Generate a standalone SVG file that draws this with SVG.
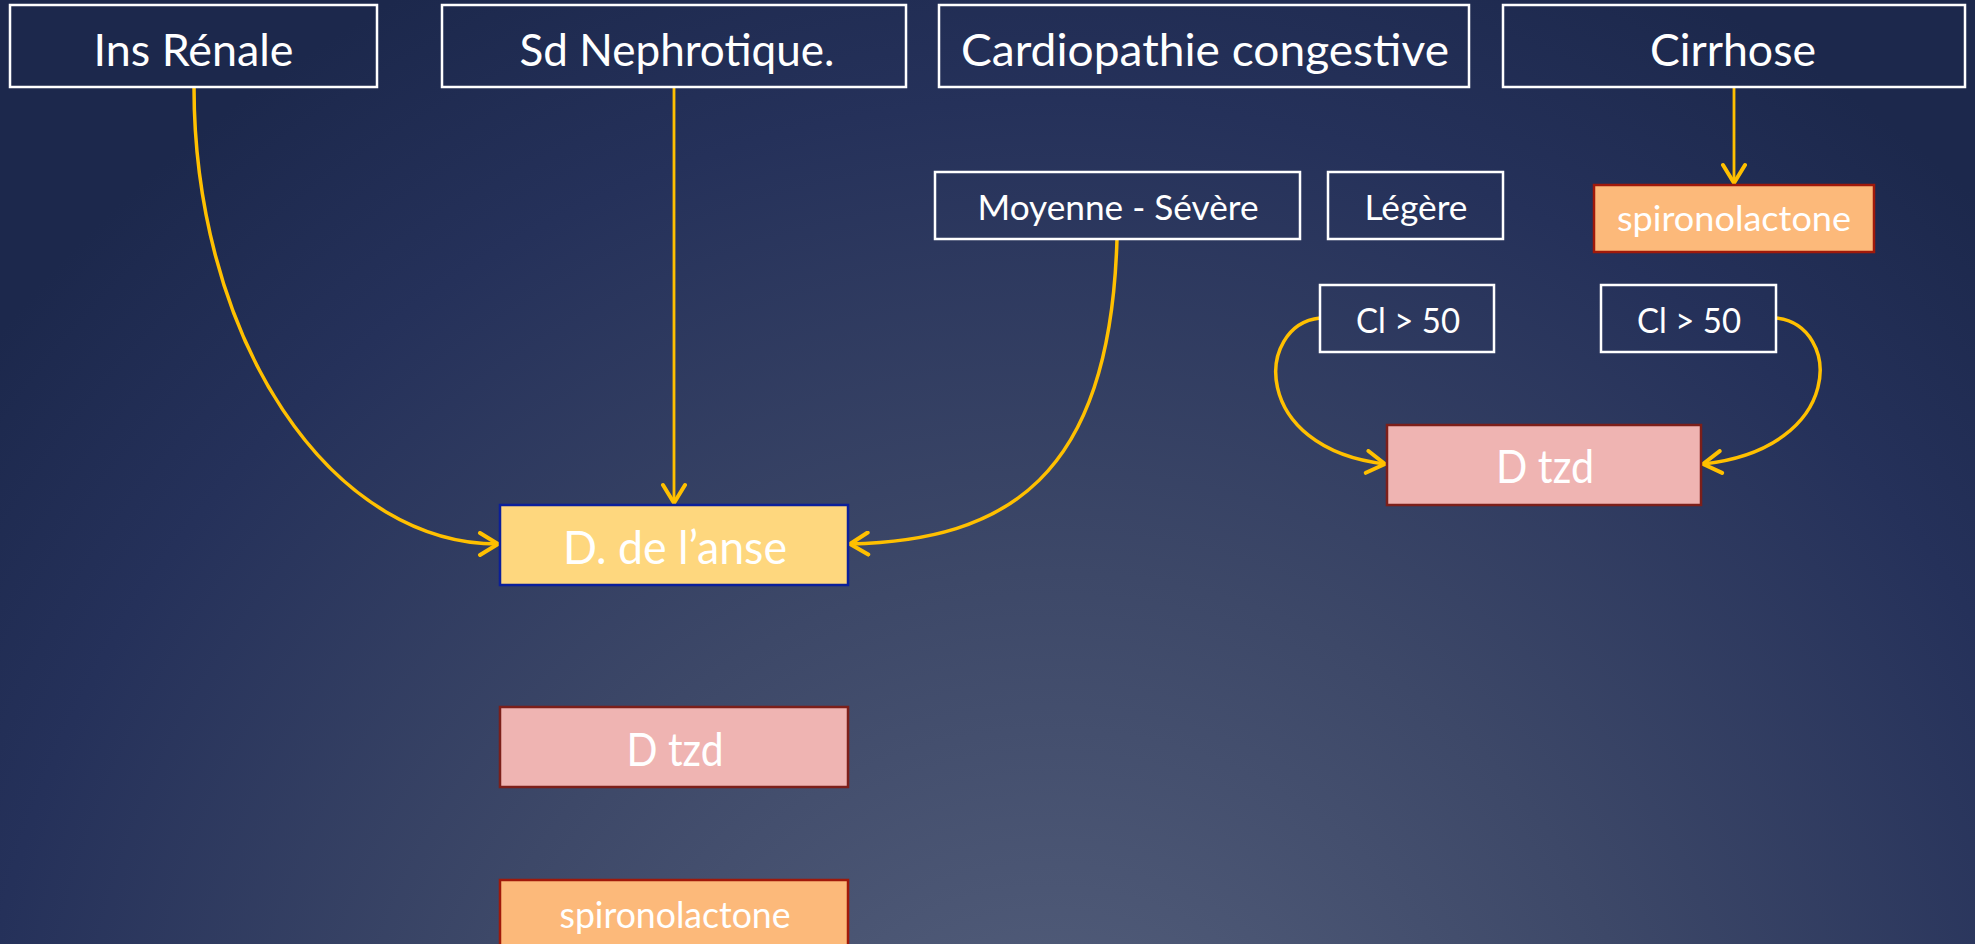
<svg xmlns="http://www.w3.org/2000/svg" width="1975" height="944" viewBox="0 0 1975 944">
<defs>
<radialGradient id="bg" gradientUnits="userSpaceOnUse" cx="1050" cy="1180" r="1350">
<stop offset="0" stop-color="#58637f"/>
<stop offset="0.45" stop-color="#3d4868"/>
<stop offset="0.8" stop-color="#25315a"/>
<stop offset="1" stop-color="#1c284c"/>
</radialGradient>
<marker id="arr" viewBox="0 0 24 26" refX="21" refY="13" markerWidth="24" markerHeight="26" orient="auto" markerUnits="userSpaceOnUse">
<path d="M3,2 L21,13 L3,24" fill="none" stroke="#FFC000" stroke-width="4" stroke-linecap="round" stroke-linejoin="round"/>
</marker>
<style>
.top{fill:none;stroke:#ffffff;stroke-width:2.5}
.lbl{fill:#ffffff;font-family:Lato,"Open Sans","Liberation Sans",sans-serif;text-anchor:middle}
.anse{fill:#fed77e;stroke:#0b1f9a;stroke-width:2.5}
.tzd{fill:#efb4b2;stroke:#7c1f1a;stroke-width:2.5}
.spiro{fill:#fcb97a;stroke:#a0190a;stroke-width:2.5}
.con{fill:none;stroke:#FFC000;stroke-width:3.5;marker-end:url(#arr)}
.str{fill:none;stroke:#FFC000;stroke-width:2.8;marker-end:url(#arr)}
</style>
</defs>
<rect x="0" y="0" width="1975" height="944" fill="url(#bg)"/>

<g id="connectors">
<path class="con" d="M194,87 A304,457 0 0 0 498,544"/>
<path class="str" d="M674,87 L674,503"/>
<path class="con" d="M1117,239 C1110,480 1005,540 850,544"/>
<path class="str" d="M1734,87 L1734,183"/>
<path class="con" d="M1320,318 C1255,325 1250,448 1385,464"/>
<path class="con" d="M1776,318 C1842,325 1846,448 1703,464"/>
</g>

<g id="ins-renale">
<rect class="top" x="10" y="5" width="367" height="82"/>
<text class="lbl" x="193.5" y="66" font-size="44" textLength="200" lengthAdjust="spacingAndGlyphs">Ins Rénale</text>
</g>
<g id="sd-nephrotique">
<rect class="top" x="442" y="5" width="464" height="82"/>
<text class="lbl" x="677" y="66" font-size="44" textLength="315" lengthAdjust="spacingAndGlyphs">Sd Nephrotique.</text>
</g>
<g id="cardiopathie">
<rect class="top" x="939" y="5" width="530" height="82"/>
<text class="lbl" x="1205" y="66" font-size="44" textLength="488" lengthAdjust="spacingAndGlyphs">Cardiopathie congestive</text>
</g>
<g id="cirrhose">
<rect class="top" x="1503" y="5" width="462" height="82"/>
<text class="lbl" x="1733" y="66" font-size="44" textLength="166" lengthAdjust="spacingAndGlyphs">Cirrhose</text>
</g>

<g id="moyenne-severe">
<rect class="top" x="935" y="172" width="365" height="67"/>
<text class="lbl" x="1118" y="220" font-size="34" textLength="281" lengthAdjust="spacingAndGlyphs">Moyenne - Sévère</text>
</g>
<g id="legere">
<rect class="top" x="1328" y="172" width="175" height="67"/>
<text class="lbl" x="1416" y="220" font-size="34" textLength="103" lengthAdjust="spacingAndGlyphs">Légère</text>
</g>
<g id="spironolactone-top">
<rect class="spiro" x="1594" y="185" width="280" height="67"/>
<text class="lbl" x="1734" y="231" font-size="34" textLength="234" lengthAdjust="spacingAndGlyphs">spironolactone</text>
</g>
<g id="cl-left">
<rect class="top" x="1320" y="285" width="174" height="67"/>
<text class="lbl" x="1408" y="333" font-size="34" textLength="104" lengthAdjust="spacingAndGlyphs">Cl &gt; 50</text>
</g>
<g id="cl-right">
<rect class="top" x="1601" y="285" width="175" height="67"/>
<text class="lbl" x="1689" y="333" font-size="34" textLength="104" lengthAdjust="spacingAndGlyphs">Cl &gt; 50</text>
</g>
<g id="dtzd-right">
<rect class="tzd" x="1387" y="425" width="314" height="80"/>
<text class="lbl" x="1545" y="483" font-size="46" textLength="98" lengthAdjust="spacingAndGlyphs">D tzd</text>
</g>

<g id="d-anse">
<rect class="anse" x="500" y="505" width="348" height="80"/>
<text class="lbl" x="675" y="564" font-size="46" textLength="224" lengthAdjust="spacingAndGlyphs">D. de l’anse</text>
</g>
<g id="dtzd-bottom">
<rect class="tzd" x="500" y="707" width="348" height="80"/>
<text class="lbl" x="675" y="766" font-size="46" textLength="97" lengthAdjust="spacingAndGlyphs">D tzd</text>
</g>
<g id="spironolactone-bottom">
<rect class="spiro" x="500" y="880" width="348" height="80"/>
<text class="lbl" x="675" y="928" font-size="36" textLength="231" lengthAdjust="spacingAndGlyphs">spironolactone</text>
</g>
</svg>
